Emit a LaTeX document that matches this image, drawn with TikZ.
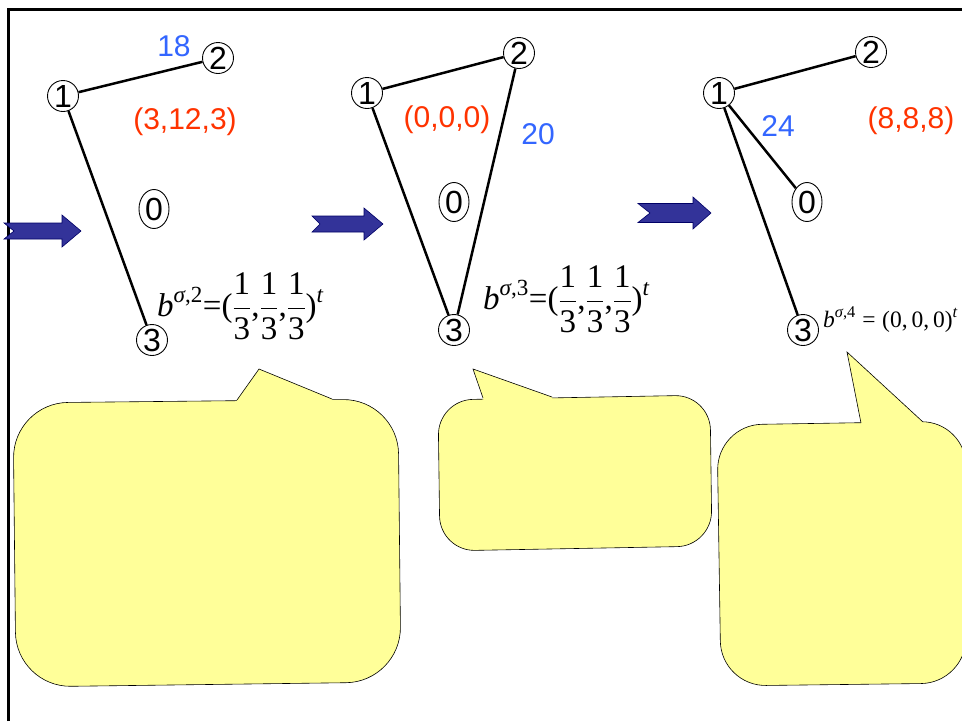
\documentclass[tikz,border=0pt]{standalone}
\usepackage{fix-cm}
\usepackage{amsmath}
\usepackage{fontspec}
\usetikzlibrary{shapes.geometric}
\setmainfont{Liberation Sans}
\newfontfamily\serif{Liberation Serif}
\definecolor{lblue}{HTML}{3366FF}
\definecolor{lred}{HTML}{FF3300}
\definecolor{lyellow}{HTML}{FFFF99}
\definecolor{ablue}{HTML}{333399}
\definecolor{anavy}{HTML}{000066}
\newcommand{\sr}[1]{\text{\serif #1}}
\newcommand{\si}[1]{\text{\serif\itshape #1}}
\newcommand{\third}{\dfrac{\sr{1}}{\sr{3}}}
\tikzset{
  vtx/.style={circle,draw,line width=0.9pt,inner sep=0pt,minimum size=31pt,font=\fontsize{32}{32}\selectfont},
  ovtx/.style={ellipse,draw,line width=0.9pt,inner sep=0pt,minimum width=30pt,minimum height=39pt,font=\fontsize{32}{32}\selectfont},
  edge/.style={line width=2.5pt},
  lab/.style={inner sep=0pt,font=\fontsize{30}{30}\selectfont},
  blab/.style={lab,text=lblue},
  rlab/.style={lab,text=lred},
  formula/.style={inner sep=0pt,font=\fontsize{33}{33}\selectfont},
  smallformula/.style={inner sep=0pt,font=\fontsize{23.5}{23.5}\selectfont},
  callout/.style={fill=lyellow,draw=black,line width=0.6pt},
  pointerfill/.style={fill=lyellow,draw=none},
  pointerline/.style={draw=black,line width=0.6pt,line join=miter},
  bigarrow/.style={fill=ablue,draw=anavy,line width=0.6pt},
  frame/.style={line width=2.5pt}
}
\begin{document}
\begin{tikzpicture}[x=1pt,y=-1pt]
\useasboundingbox (0,0) rectangle (962,721);
\fill[white] (0,0) rectangle (962,721);

% callout 1
\draw[callout,rounded corners=55pt] (13,403) -- (398,399) -- (401,682) -- (16,687) -- cycle;
\fill[pointerfill] (237,400) -- (259,369) -- (332,399) -- (332,404) -- (237,405) -- cycle;
\draw[pointerline] (237,400) -- (259,369) -- (332,399);
% callout 2
\draw[callout,rounded corners=35pt] (438,400) -- (710,395) -- (712,546) -- (440,551) -- cycle;
\fill[pointerfill] (483,398) -- (473,369) -- (552,397) -- (552,402) -- (484,403) -- cycle;
\draw[pointerline] (483,398) -- (473,369) -- (552,397);
% callout 3
\draw[callout,rounded corners=45pt] (717,425) -- (966,421) -- (966,683) -- (721,686) -- cycle;
\fill[pointerfill] (861,423) -- (847,352) -- (923,422) -- (923,427) -- (861,428) -- cycle;
\draw[pointerline] (861,423) -- (847,352) -- (923,422);

% frame
\draw[frame] (8.5,721) -- (8.5,9.5) -- (962,9.5);

% arrows
\filldraw[bigarrow] (4,223) -- (62,223) -- (62,215) -- (81,231) -- (62,247) -- (62,239) -- (4,239) -- (14,231) -- cycle;
\filldraw[bigarrow] (312,216) -- (364,216) -- (364,208) -- (383,224) -- (364,240) -- (364,232) -- (312,232) -- (320,224) -- cycle;
\filldraw[bigarrow] (638,203.5) -- (693,203.5) -- (693,197) -- (711,213) -- (693,229) -- (693,222.5) -- (638,222.5) -- (650,213) -- cycle;

% panel 1
\node[vtx] (a1) at (63,96) {1};
\node[vtx] (a2) at (218,58) {2};
\node[ovtx] (a0) at (154,209) {0};
\node[vtx] (a3) at (152,340) {3};
\draw[edge] (a1) -- (a2);
\draw[edge] (a1) -- (a3);
\node[blab] (w1) at (174,46) {18};
\node[rlab] (c1) at (185,122) {(3,12,3)};
\node[formula,anchor=west] (f1) at (157,306) {$\si{b}^{\si{σ}\sr{,2}}\sr{=(}\third\sr{,}\third\sr{,}\third\sr{)}^{\si{t}}$};

% panel 2
\node[vtx] (b1) at (367,93) {1};
\node[vtx] (b2) at (519,53) {2};
\node[ovtx] (b0) at (454,202) {0};
\node[vtx] (b3) at (454,330) {3};
\draw[edge] (b1) -- (b2);
\draw[edge] (b1) -- (b3);
\draw[edge] (b2) -- (b3);
\node[rlab] (c2) at (447,120) {(0,0,0)};
\node[blab] (w2) at (538,134) {20};
\node[formula,anchor=west] (f2) at (483,299) {$\si{b}^{\si{σ}\sr{,3}}\sr{=(}\third\sr{,}\third\sr{,}\third\sr{)}^{\si{t}}$};

% panel 3
\node[vtx] (d1) at (719,93) {1};
\node[vtx] (d2) at (871,52) {2};
\node[ovtx] (d0) at (807,202) {0};
\node[vtx] (d3) at (803,330) {3};
\draw[edge] (d1) -- (d2);
\draw[edge] (d1) -- (d0);
\draw[edge] (d1) -- (d3);
\node[blab] (w3) at (778,126) {24};
\node[rlab] (c3) at (911,121) {(8,8,8)};
\node[smallformula,anchor=base west] (f3) at (823,327) {$\si{b}^{\si{σ}\sr{,4}}\;\sr{=}\;\sr{(0,}\,\sr{0,}\,\sr{0)}^{\si{t}}$};
\end{tikzpicture}
\end{document}
